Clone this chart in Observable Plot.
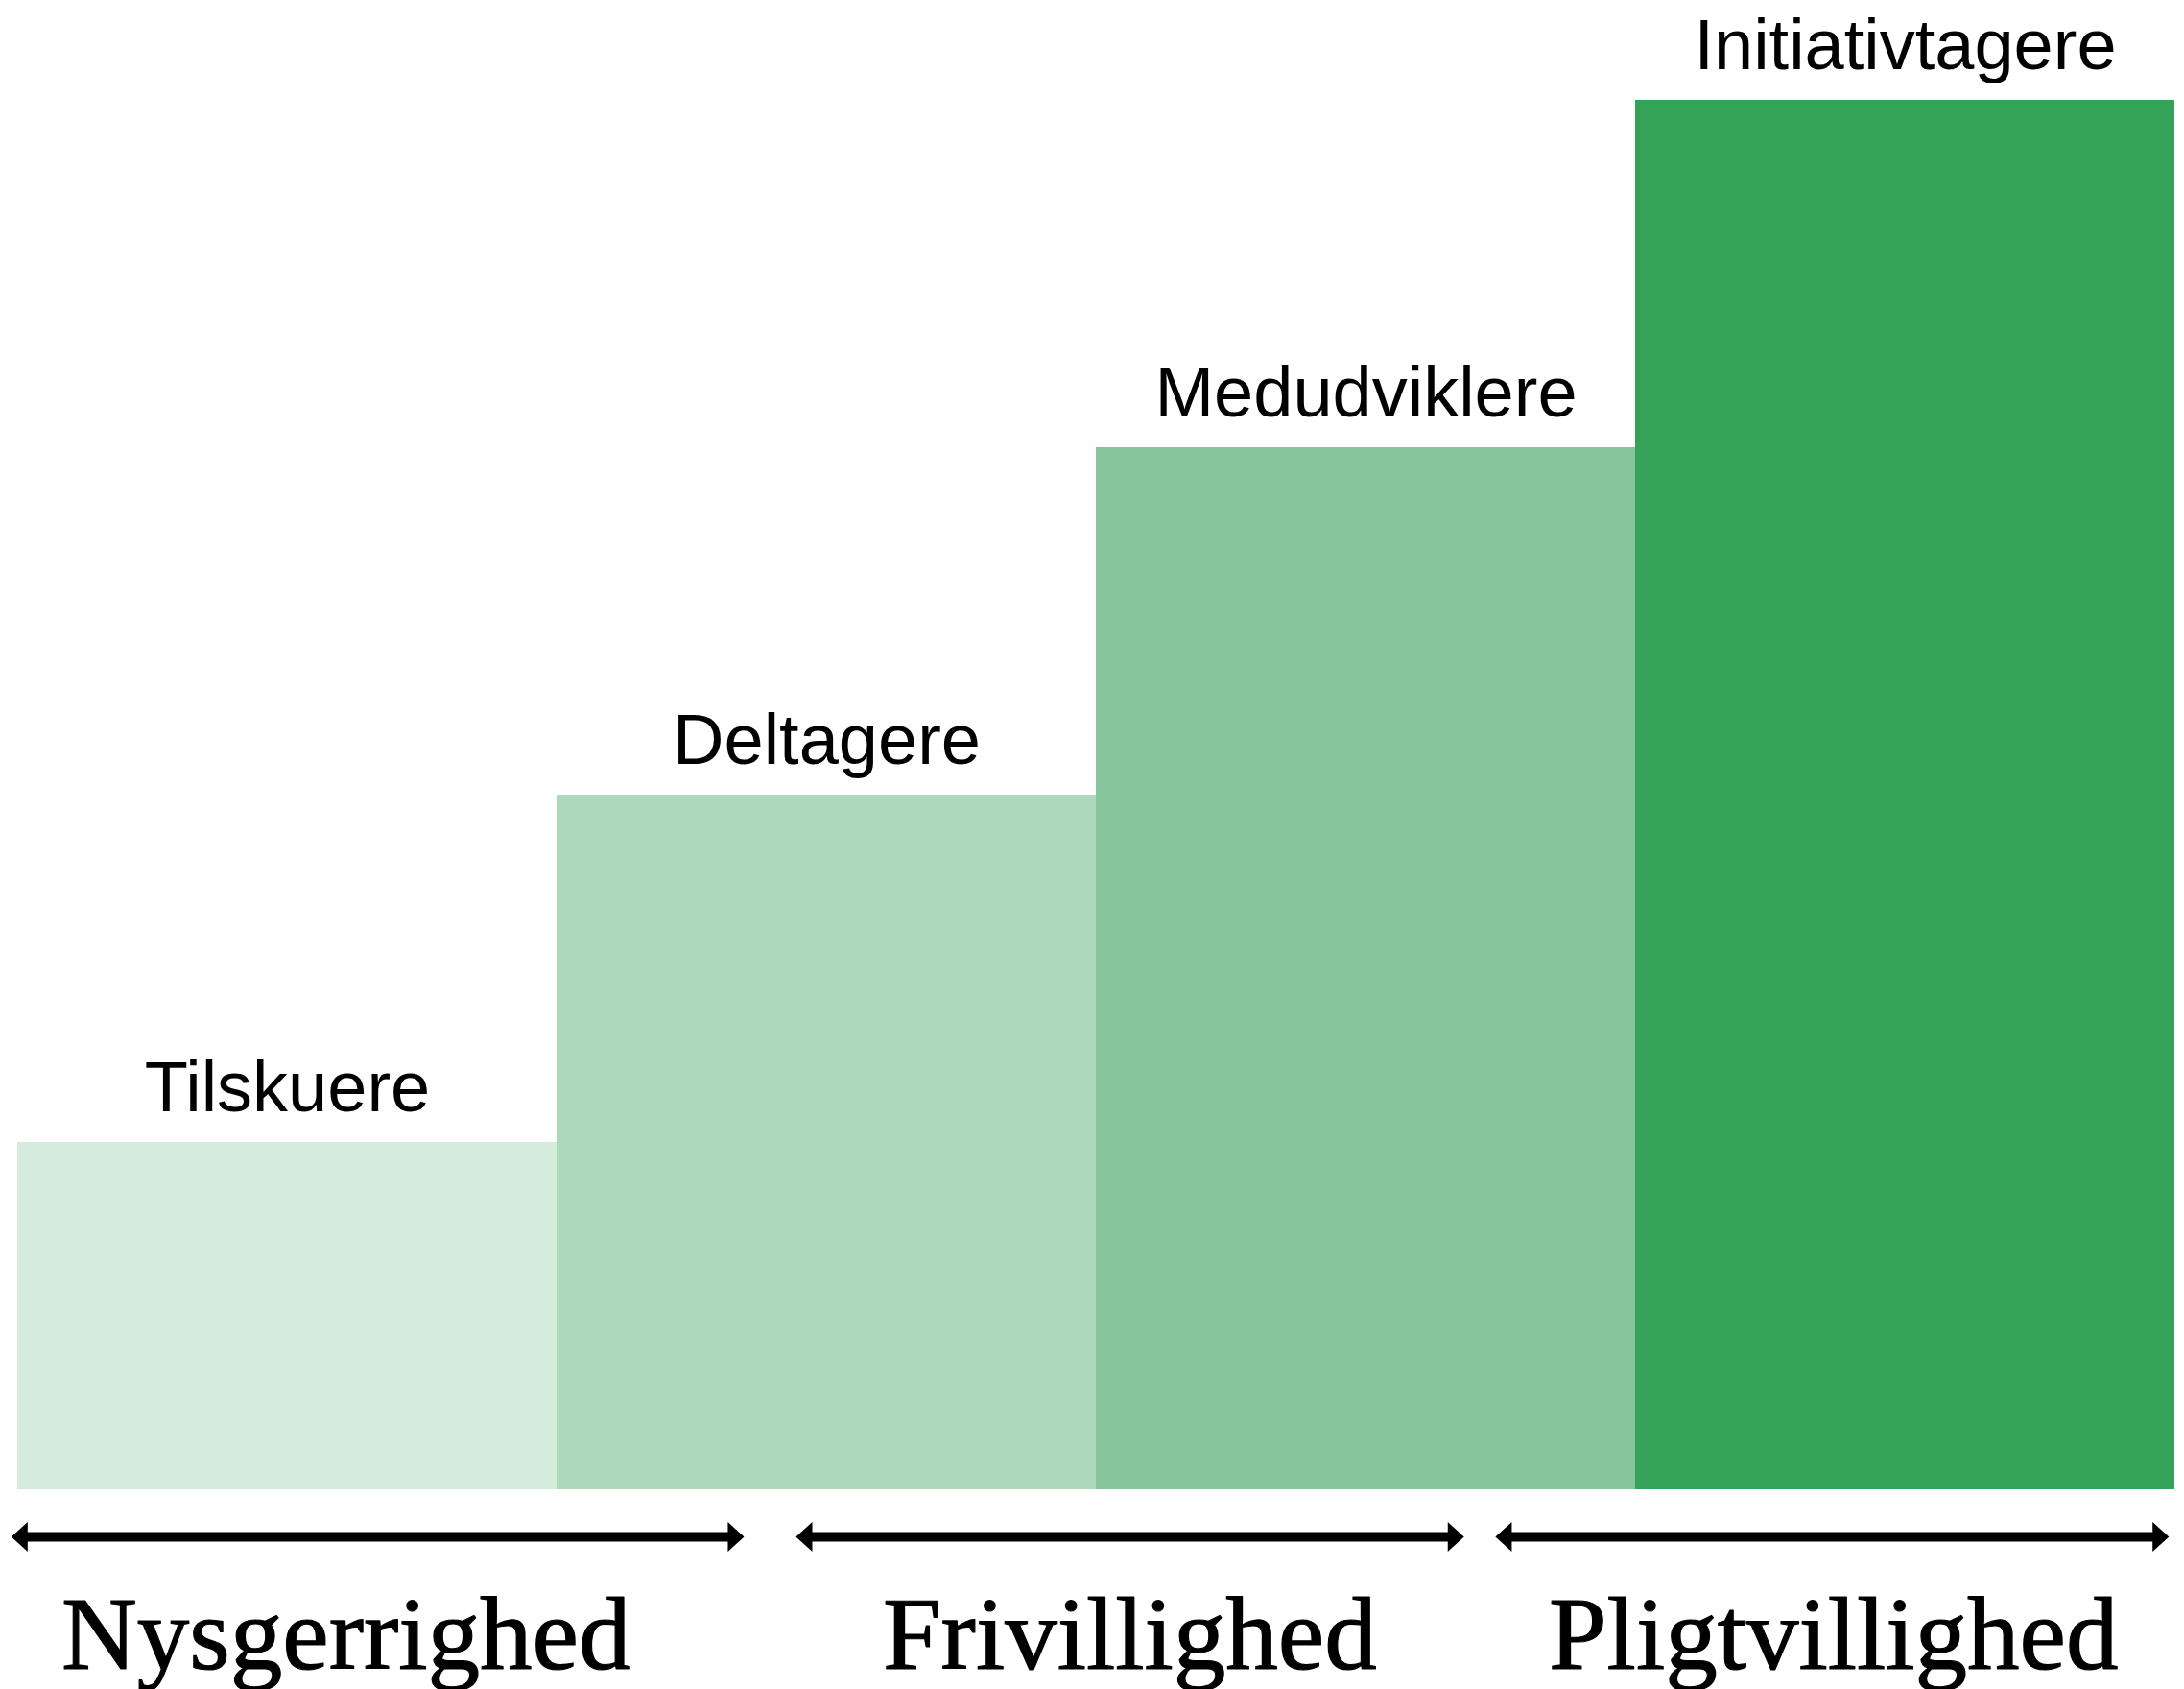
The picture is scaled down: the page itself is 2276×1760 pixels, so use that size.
<!DOCTYPE html>
<html>
<head>
<meta charset="utf-8">
<script src="https://cdn.jsdelivr.net/npm/d3@7"></script>
<script src="https://cdn.jsdelivr.net/npm/@observablehq/plot@0.6"></script>
<style>
  html, body { margin: 0; padding: 0; background: #fff; }
  #chart svg { display: block; }
</style>
</head>
<body>
<div id="chart"></div>
<script>
// ---- data ----
const categories = ["Tilskuere", "Deltagere", "Medudviklere", "Initiativtagere"];
const levels = [1, 2, 3, 4];
const barColors = ["#d5ecdc", "#acd9bb", "#86c59b", "#34a257"];

const groupNames = ["Nysgerrighed", "Frivillighed", "Pligtvillighed"];
const groupStart = [-0.012, 1.443, 2.740];
const groupEnd = [1.347, 2.682, 3.989];
const groupLabelAt = [0.609, 2.062, 3.367];

// ---- tables built from the arrays ----
const bars = categories.map((c, i) => ({ category: c, level: levels[i], x1: i, x2: i + 1 }));
const groups = groupNames.map((g, i) => ({ name: g, start: groupStart[i], end: groupEnd[i], at: groupLabelAt[i] }));

// filled arrowheads (custom symbols)
const headRight = {
  draw(ctx, size) {
    const r = Math.sqrt(size / Math.PI);
    ctx.moveTo(0, 0);
    ctx.lineTo(-r * 1.1, -r);
    ctx.lineTo(-r * 1.1, r);
    ctx.closePath();
  }
};
const headLeft = {
  draw(ctx, size) {
    const r = Math.sqrt(size / Math.PI);
    ctx.moveTo(0, 0);
    ctx.lineTo(r * 1.1, -r);
    ctx.lineTo(r * 1.1, r);
    ctx.closePath();
  }
};

const arrowDy = 49;
const labelDy = 186;

const chart = Plot.plot({
  width: 2276,
  height: 1760,
  marginLeft: 18,
  marginRight: 10,
  marginTop: 104,
  marginBottom: 208,
  x: { domain: [0, 4], axis: null },
  y: { domain: [0, 4], axis: null },
  color: { domain: categories, range: barColors },
  style: { background: "white", overflow: "visible" },
  marks: [
    Plot.rectY(bars, { x1: "x1", x2: "x2", y: "level", fill: "category" }),
    Plot.text(bars, {
      x: d => (d.x1 + d.x2) / 2,
      y: "level",
      text: "category",
      dy: -33,
      lineAnchor: "bottom",
      fontSize: 74,
      fontFamily: "'Liberation Sans', Arial, Helvetica, sans-serif",
      fill: "black"
    }),
    Plot.arrow(groups, {
      x1: "start", x2: "end",
      y1: () => 0, y2: () => 0,
      dy: arrowDy,
      stroke: "black",
      strokeWidth: 10,
      strokeLinecap: "butt",
      headLength: 0,
      insetStart: 12,
      insetEnd: 12
    }),
    Plot.dot(groups, { x: "end", y: () => 0, dy: arrowDy, symbol: headRight, r: 15.5, fill: "black", stroke: "none" }),
    Plot.dot(groups, { x: "start", y: () => 0, dy: arrowDy, symbol: headLeft, r: 15.5, fill: "black", stroke: "none" }),
    Plot.text(groups, {
      x: "at",
      y: () => 0,
      dy: labelDy,
      text: "name",
      lineAnchor: "bottom",
      fontSize: 109,
      fontFamily: "'Liberation Serif', 'Times New Roman', Times, serif",
      fill: "black",
      stroke: "black",
      strokeWidth: 1.2
    })
  ]
});

document.getElementById("chart").appendChild(chart);
</script>
</body>
</html>
